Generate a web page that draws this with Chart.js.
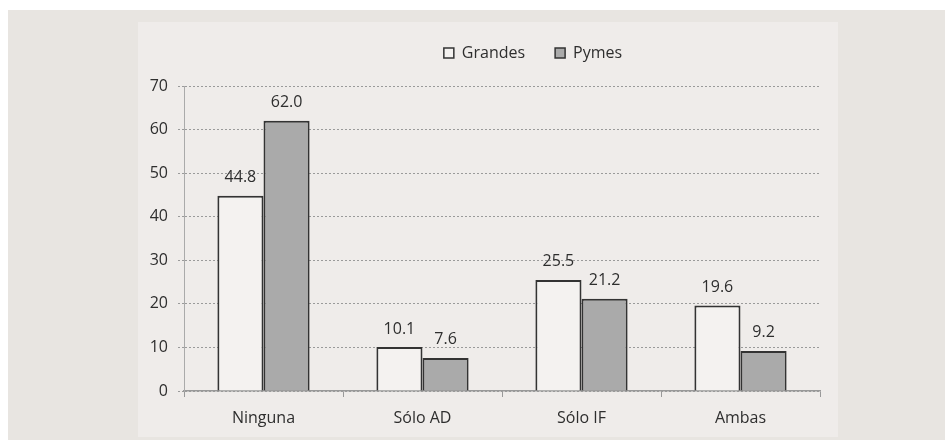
<!DOCTYPE html>
<html>
<head>
<meta charset="utf-8">
<script src="https://cdn.jsdelivr.net/npm/chart.js@4/dist/chart.umd.min.js"></script>
<style>
  body { margin: 0; background: #ffffff; width: 945px; height: 440px; overflow: hidden; position: relative; }
  #outer { position: absolute; left: 8px; top: 10px; width: 937px; height: 430px; background: #e8e5e1; }
  #panel { position: absolute; left: 138px; top: 22px; width: 700px; height: 415px; background: #efecea; }
  #wrap { position: absolute; left: 138px; top: 15px; width: 700px; height: 422px; }
</style>
</head>
<body>
<div id="outer"></div>
<div id="panel"></div>
<div id="wrap"><canvas id="bars" width="700" height="422"></canvas></div>
<script>
var categories = ["Ninguna", "Sólo AD", "Sólo IF", "Ambas"];
var grandes = [44.8, 10.1, 25.5, 19.6];
var pymes = [62.0, 7.6, 21.2, 9.2];
var seriesNames = ["Grandes", "Pymes"];

var textColor = '#2e2e2e';
var fontFamily = '"Open Sans", sans-serif';

// values above each bar
var barLabels = {
    id: 'barLabels',
    afterDatasetsDraw: function(chart) {
        var ctx = chart.ctx;
        ctx.save();
        ctx.font = '16px ' + fontFamily;
        ctx.fillStyle = textColor;
        ctx.textAlign = 'center';
        ctx.textBaseline = 'middle';
        chart.data.datasets.forEach(function(ds, i) {
            chart.getDatasetMeta(i).data.forEach(function(bar, j) {
                ctx.fillText(ds.data[j].toFixed(1), bar.x, bar.y - 18);
            });
        });
        ctx.restore();
    }
};

// more room under the legend, and nudge it to the right like in the original
var legendTweak = {
    id: 'legendTweak',
    afterInit: function(chart) {
        var lg = chart.legend;
        var fit = lg.fit;
        lg.fit = function() {
            fit.call(this);
            this.height += 15;
        };
    },
    afterLayout: function(chart) {
        chart.legend.left += 54;
        chart.legend.right += 54;
    }
};

var ctx = document.getElementById("bars").getContext('2d');
var myChart = new Chart(ctx, {
    type: 'bar',
    data: {
        labels: categories,
        datasets: [{
            label: seriesNames[0],
            data: grandes,
            backgroundColor: '#f4f2f0',
            borderColor: '#333333',
            borderWidth: 2
        }, {
            label: seriesNames[1],
            data: pymes,
            backgroundColor: '#aaaaaa',
            borderColor: '#333333',
            borderWidth: 2
        }]
    },
    options: {
        responsive: false,
        animation: false,
        categoryPercentage: 0.58,
        barPercentage: 1,
        layout: { padding: { top: 0, right: 18, bottom: 0, left: 0 } },
        plugins: {
            tooltip: { enabled: false },
            legend: {
                position: 'top',
                labels: {
                    boxWidth: 10,
                    boxHeight: 10,
                    padding: 30,
                    color: textColor,
                    font: { family: fontFamily, size: 16 },
                    generateLabels: function(chart) {
                        return chart.data.datasets.map(function(ds, i) {
                            return {
                                text: ds.label,
                                fillStyle: ds.backgroundColor,
                                strokeStyle: '#333333',
                                lineWidth: 1.5,
                                fontColor: textColor,
                                datasetIndex: i
                            };
                        });
                    }
                }
            }
        },
        scales: {
            x: {
                afterFit: function(scale) { scale.height = 46; },
                grid: { drawOnChartArea: false, color: '#999999', tickLength: 6 },
                border: { color: '#999999', width: 1.5 },
                ticks: { color: textColor, padding: 12, font: { family: fontFamily, size: 16 } }
            },
            y: {
                min: 0,
                max: 70,
                afterFit: function(scale) { scale.width = 46; },
                grid: { color: '#9a9a9a', tickLength: 6, tickBorderDash: [2, 2] },
                border: { color: '#aaaaaa', dash: [2, 2] },
                ticks: { stepSize: 10, color: textColor, padding: 10, font: { family: fontFamily, size: 16 } }
            }
        }
    },
    plugins: [barLabels, legendTweak]
});
</script>
</body>
</html>
